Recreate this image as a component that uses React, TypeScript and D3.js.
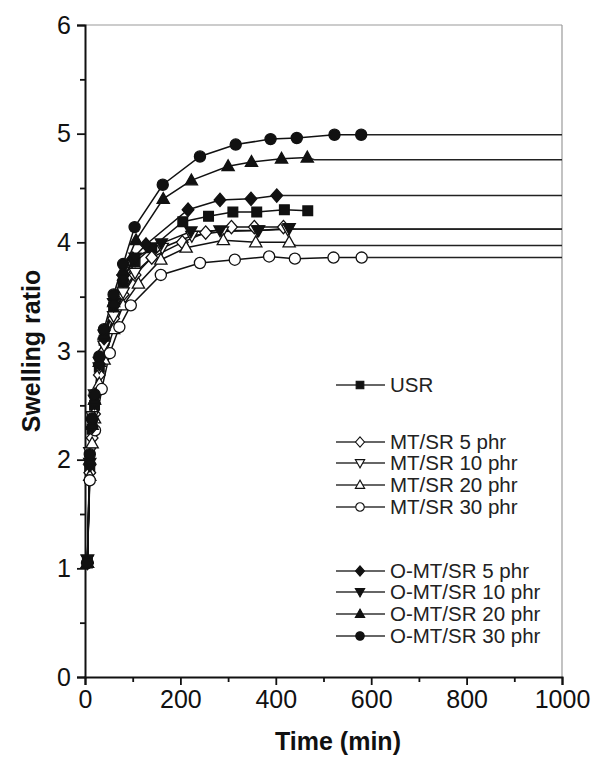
import * as d3 from 'd3';
import { useEffect, useRef } from 'react';

// series data (time in min, swelling ratio)
const usrT = [5, 10, 15, 20, 30, 40, 60, 80, 105, 140, 205, 259, 310, 360, 418, 467];
const usrV = [1.05, 1.92, 2.28, 2.5, 2.85, 3.1, 3.4, 3.62, 3.82, 3.95, 4.19, 4.24, 4.28, 4.28, 4.30, 4.29];

const mt5T = [5, 10, 15, 20, 30, 40, 60, 80, 105, 140, 204, 253, 307, 355, 416];
const mt5V = [1.05, 1.88, 2.2, 2.42, 2.78, 3.0, 3.3, 3.52, 3.7, 3.86, 4.00, 4.09, 4.14, 4.14, 4.14];

const mt10T = [5, 10, 15, 20, 30, 40, 60, 80, 105, 162, 224, 288, 362, 425];
const mt10V = [1.08, 2.07, 2.4, 2.6, 2.85, 3.05, 3.32, 3.54, 3.72, 3.95, 4.06, 4.10, 4.11, 4.12];

const mt20T = [5, 10, 15, 20, 30, 40, 60, 80, 112, 159, 212, 290, 358, 428];
const mt20V = [1.05, 1.85, 2.15, 2.38, 2.7, 2.92, 3.2, 3.42, 3.62, 3.84, 3.95, 4.02, 4.00, 4.00];

const mt30T = [5, 10, 21, 35, 52, 72, 96, 159, 241, 314, 386, 440, 521, 580];
const mt30V = [1.05, 1.81, 2.27, 2.65, 2.98, 3.22, 3.42, 3.70, 3.81, 3.84, 3.87, 3.85, 3.86, 3.86];

const o5T = [5, 10, 15, 20, 30, 40, 60, 80, 100, 128, 216, 283, 348, 402];
const o5V = [1.05, 1.95, 2.3, 2.52, 2.88, 3.12, 3.42, 3.65, 3.85, 3.98, 4.30, 4.39, 4.40, 4.43];

const o10T = [5, 10, 15, 20, 30, 40, 60, 80, 105, 160, 222, 283, 364, 428];
const o10V = [1.08, 1.97, 2.33, 2.55, 2.9, 3.15, 3.44, 3.66, 3.86, 3.99, 4.10, 4.11, 4.11, 4.13];

const o20T = [5, 10, 15, 20, 30, 40, 60, 80, 107, 164, 223, 300, 349, 412, 466];
const o20V = [1.05, 2.0, 2.32, 2.55, 2.9, 3.15, 3.45, 3.74, 4.02, 4.40, 4.57, 4.70, 4.74, 4.77, 4.78];

const o30T = [5, 10, 15, 20, 30, 40, 60, 80, 104, 163, 241, 316, 389, 444, 523, 579];
const o30V = [1.05, 2.05, 2.38, 2.6, 2.95, 3.2, 3.52, 3.8, 4.14, 4.53, 4.79, 4.90, 4.95, 4.96, 4.99, 4.99];

// fitted plateau values (null = no fit line)
const seriesNames = ['USR', 'MT/SR 5 phr', 'MT/SR 10 phr', 'MT/SR 20 phr', 'MT/SR 30 phr',
    'O-MT/SR 5 phr', 'O-MT/SR 10 phr', 'O-MT/SR 20 phr', 'O-MT/SR 30 phr'];
const plateaus = [null, 4.12, 4.12, 3.97, 3.86, 4.43, 4.12, 4.76, 4.99];
const shapes = ['square', 'diamond', 'down', 'up', 'circle', 'diamond', 'down', 'up', 'circle'];
const filled = [true, false, false, false, false, true, true, true, true];
const times = [usrT, mt5T, mt10T, mt20T, mt30T, o5T, o10T, o20T, o30T];
const values = [usrV, mt5V, mt10V, mt20V, mt30V, o5V, o10V, o20V, o30V];

const xTicks = [0, 200, 400, 600, 800, 1000];
const yTicks = [0, 1, 2, 3, 4, 5, 6];

// marker shapes, size = r*r
const symbolTypes = {
    circle: { draw(c, s) { const r = Math.sqrt(s); c.moveTo(r, 0); c.arc(0, 0, r, 0, 2 * Math.PI); } },
    square: { draw(c, s) { const r = Math.sqrt(s) * 0.9; c.rect(-r, -r, 2 * r, 2 * r); } },
    diamond: { draw(c, s) { const r = Math.sqrt(s); c.moveTo(0, -r * 1.2); c.lineTo(r * 1.05, 0); c.lineTo(0, r * 1.2); c.lineTo(-r * 1.05, 0); c.closePath(); } },
    up: { draw(c, s) { const r = Math.sqrt(s); c.moveTo(0, -r * 1.15); c.lineTo(r * 1.1, r * 0.8); c.lineTo(-r * 1.1, r * 0.8); c.closePath(); } },
    down: { draw(c, s) { const r = Math.sqrt(s); c.moveTo(0, r * 1.15); c.lineTo(r * 1.1, -r * 0.8); c.lineTo(-r * 1.1, -r * 0.8); c.closePath(); } },
};

function App() {
    const elementRef = useRef(null);

    useEffect(() => {
        const width = 593, height = 758;
        const element = d3.select(elementRef.current);
        element.selectAll('svg').remove();

        const svg = element.append('svg')
            .attr('width', width)
            .attr('height', height)
            .style('display', 'block')
            .style('font-family', '"Liberation Sans", Arial, sans-serif');

        const x = d3.scaleLinear().domain([0, 1000]).range([85, 562]);
        const y = d3.scaleLinear().domain([0, 6]).range([677, 25]);

        // frame top/right (grey)
        svg.append('line').attr('x1', x(0)).attr('x2', x(1000)).attr('y1', y(6)).attr('y2', y(6))
            .attr('stroke', '#9a9a9a').attr('stroke-width', 1.2);
        svg.append('line').attr('x1', x(1000)).attr('x2', x(1000)).attr('y1', y(6)).attr('y2', y(0))
            .attr('stroke', '#9a9a9a').attr('stroke-width', 1.2);

        // axes
        const fontSize = 25;
        const gx = svg.append('g').attr('transform', `translate(0,${y(0)})`)
            .call(d3.axisBottom(x).tickValues(xTicks).tickSize(8).tickPadding(5).tickFormat(d3.format('d')));
        svg.append('g').attr('transform', `translate(0,${y(0)})`)
            .call(d3.axisBottom(x).tickValues([100, 300, 500, 700, 900]).tickSize(5).tickFormat(''))
            .select('.domain').remove();
        const gy = svg.append('g').attr('transform', `translate(${x(0)},0)`)
            .call(d3.axisLeft(y).tickValues(yTicks).tickSize(8).tickPadding(6).tickFormat(d3.format('d')));
        svg.append('g').attr('transform', `translate(${x(0)},0)`)
            .call(d3.axisLeft(y).tickValues([0.5, 1.5, 2.5, 3.5, 4.5, 5.5]).tickSize(5).tickFormat(''))
            .select('.domain').remove();

        svg.selectAll('.domain').attr('stroke', '#111').attr('stroke-width', 2);
        svg.selectAll('.tick line').attr('stroke', '#111').attr('stroke-width', 1.8);
        [gx, gy].forEach(g => g.selectAll('text')
            .attr('font-size', fontSize)
            .attr('font-family', '"Liberation Sans", Arial, sans-serif')
            .attr('fill', '#111'));

        // axis titles
        svg.append('text')
            .attr('x', 338).attr('y', 750)
            .attr('text-anchor', 'middle')
            .attr('font-size', 25).attr('font-weight', 'bold').attr('fill', '#111')
            .text('Time (min)');
        svg.append('text')
            .attr('transform', `translate(40,${(y(0) + y(6)) / 2}) rotate(-90)`)
            .attr('text-anchor', 'middle')
            .attr('font-size', 25).attr('font-weight', 'bold').attr('fill', '#111')
            .text('Swelling ratio');

        const line = d3.line().x(d => x(d[0])).y(d => y(d[1]));
        const plot = svg.append('g');

        seriesNames.forEach((name, i) => {
            const pts = times[i].map((t, j) => [t, values[i][j]]);
            plot.append('path')
                .datum(pts)
                .attr('d', line)
                .attr('fill', 'none')
                .attr('stroke', '#111')
                .attr('stroke-width', 1.5);
            if (plateaus[i] !== null) {
                const last = pts[pts.length - 1];
                plot.append('path')
                    .datum([last, [last[0] + 15, plateaus[i]], [1000, plateaus[i]]])
                    .attr('d', line)
                    .attr('fill', 'none')
                    .attr('stroke', '#222')
                    .attr('stroke-width', 1.5);
            }
        });

        seriesNames.forEach((name, i) => {
            const pts = times[i].map((t, j) => [t, values[i][j]]);
            plot.append('g').selectAll('path')
                .data(pts)
                .join('path')
                .attr('transform', d => `translate(${x(d[0])},${y(d[1])})`)
                .attr('d', d3.symbol().type(symbolTypes[shapes[i]]).size(shapes[i] === 'square' ? 29 : 31))
                .attr('fill', filled[i] ? '#111' : '#fff')
                .attr('stroke', '#111')
                .attr('stroke-width', 1.3);
        });

        // legend
        const legendRows = [385, 442, 463, 485, 507, 571, 592, 614, 636];
        const legend = svg.append('g');
        seriesNames.forEach((name, i) => {
            const ly = legendRows[i];
            legend.append('line')
                .attr('x1', 336).attr('x2', 385).attr('y1', ly).attr('y2', ly)
                .attr('stroke', '#333').attr('stroke-width', 1.5);
            legend.append('path')
                .attr('transform', `translate(360,${ly})`)
                .attr('d', d3.symbol().type(symbolTypes[shapes[i]]).size(18)())
                .attr('fill', filled[i] ? '#111' : '#fff')
                .attr('stroke', '#111')
                .attr('stroke-width', 1.1);
            legend.append('text')
                .attr('x', 390).attr('y', ly)
                .attr('dy', '0.35em')
                .attr('font-size', 20.5)
                .attr('fill', '#222')
                .text(name);
        });
    }, []);

    return (
        <div style={{ position: 'absolute', left: 0, top: 0, width: 593, height: 758, background: '#fff' }} ref={elementRef}></div>
    );
}

export default App;
